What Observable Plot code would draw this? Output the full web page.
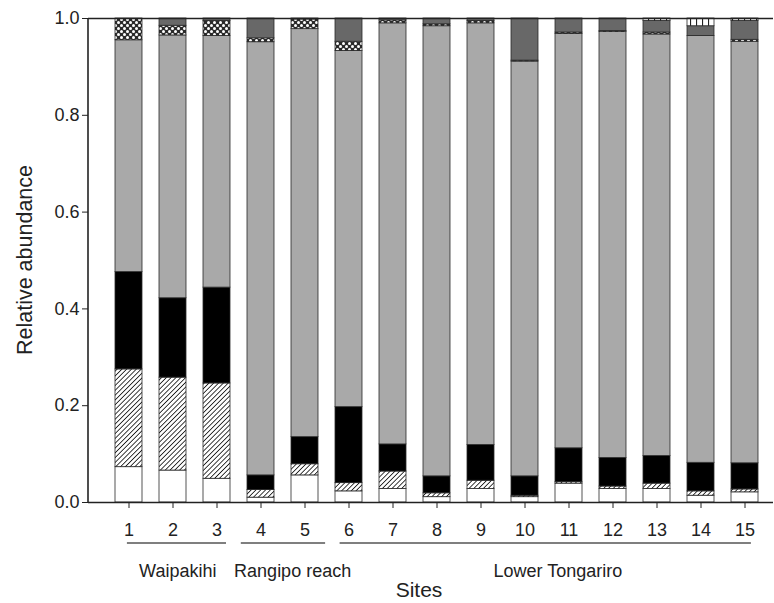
<!DOCTYPE html>
<html>
<head>
<meta charset="utf-8">
<script src="https://cdn.jsdelivr.net/npm/d3@7"></script>
<script src="https://cdn.jsdelivr.net/npm/@observablehq/plot@0.6"></script>
<style>
  html, body { margin: 0; padding: 0; background: #fff; }
</style>
</head>
<body>
<div id="chart"></div>
<script>
// ---- data (relative abundance per site, stacked bottom -> top) ----
const sites = ["1","2","3","4","5","6","7","8","9","10","11","12","13","14","15"];
const categories = ["open", "hatched", "black", "grey", "dotted", "darkgrey", "striped"];

const open     = [0.073, 0.066, 0.049, 0.010, 0.056, 0.023, 0.028, 0.011, 0.028, 0.011, 0.039, 0.028, 0.028, 0.014, 0.021];
const hatched  = [0.202, 0.192, 0.197, 0.016, 0.023, 0.017, 0.036, 0.008, 0.017, 0.003, 0.003, 0.005, 0.011, 0.009, 0.006];
const black    = [0.201, 0.164, 0.198, 0.030, 0.056, 0.157, 0.056, 0.035, 0.074, 0.040, 0.070, 0.059, 0.057, 0.059, 0.054];
const grey     = [0.479, 0.543, 0.520, 0.895, 0.843, 0.736, 0.870, 0.930, 0.871, 0.857, 0.856, 0.880, 0.871, 0.882, 0.871];
const dotted   = [0.045, 0.020, 0.031, 0.008, 0.020, 0.019, 0.006, 0.004, 0.005, 0.002, 0.003, 0.002, 0.004, 0.000, 0.004];
const darkgrey = [0.000, 0.015, 0.005, 0.041, 0.002, 0.048, 0.004, 0.012, 0.005, 0.087, 0.029, 0.026, 0.024, 0.020, 0.039];
const striped  = [0.000, 0.000, 0.000, 0.000, 0.000, 0.000, 0.000, 0.000, 0.000, 0.000, 0.000, 0.000, 0.005, 0.016, 0.005];

const yTicks = [0, 0.2, 0.4, 0.6, 0.8, 1.0];

const groups = [
  {label: "Waipakihi",       from: "1", to: "3"},
  {label: "Rangipo reach",   from: "4", to: "5"},
  {label: "Lower Tongariro", from: "6", to: "15"}
];

const series = {open, hatched, black, grey, dotted, darkgrey, striped};
const data = [];
categories.forEach(c => sites.forEach((s, i) => {
  if (series[c][i] > 0) data.push({site: s, category: c, value: series[c][i]});
}));

// ---- styling ----
const fills = ["#ffffff", "url(#hatch)", "#000000", "#a9a9a9", "url(#dots)", "#686868", "url(#vstripes)"];
const font = "'Liberation Sans', Arial, Helvetica, sans-serif";

const plot = Plot.plot({
  width: 774,
  height: 603,
  marginLeft: 88,
  marginRight: 1,
  marginTop: 18,
  marginBottom: 101,
  style: {fontFamily: font, fontSize: "18px", color: "#222", background: "#fff"},
  x: {type: "band", domain: sites, paddingInner: 0.39, paddingOuter: 0.4, align: 0.64,
      label: null, tickSize: 6, tickPadding: 15},
  y: {domain: [0, 1], ticks: yTicks, tickFormat: d3.format(".1f"), label: null,
      tickSize: 6, tickPadding: 3},
  color: {domain: categories, range: fills},
  marks: [
    Plot.rectY(data, Plot.stackY({order: categories}, {
      x: "site", y: "value", z: "category", fill: "category",
      stroke: "#2a2a2a", strokeWidth: 0.8
    })),
    Plot.ruleY([0, 1], {stroke: "#222", strokeWidth: 1.6})
  ]
});

const svg = d3.select(plot);
const xs = plot.scale("x");
const ys = plot.scale("y");
const bw = xs.bandwidth;
const cx = s => xs.apply(s) + bw / 2;

// patterns
const defs = svg.insert("defs", ":first-child");
const hatch = defs.append("pattern").attr("id", "hatch").attr("patternUnits", "userSpaceOnUse")
  .attr("width", 3.4).attr("height", 3.4).attr("patternTransform", "rotate(45)");
hatch.append("rect").attr("width", 3.4).attr("height", 3.4).attr("fill", "#fff");
hatch.append("line").attr("x1", 0).attr("y1", 0).attr("x2", 0).attr("y2", 3.4)
  .attr("stroke", "#1a1a1a").attr("stroke-width", 1.7);

const dots = defs.append("pattern").attr("id", "dots").attr("patternUnits", "userSpaceOnUse")
  .attr("width", 6).attr("height", 6);
dots.append("rect").attr("width", 6).attr("height", 6).attr("fill", "#2a2a2a");
dots.append("circle").attr("cx", 1.5).attr("cy", 1.5).attr("r", 1.5).attr("fill", "#fff");
dots.append("circle").attr("cx", 4.5).attr("cy", 4.5).attr("r", 1.5).attr("fill", "#fff");

const vs = defs.append("pattern").attr("id", "vstripes").attr("patternUnits", "userSpaceOnUse")
  .attr("width", 6).attr("height", 6);
vs.append("rect").attr("width", 6).attr("height", 6).attr("fill", "#fff");
vs.append("line").attr("x1", 0.5).attr("y1", 0).attr("x2", 0.5).attr("y2", 6)
  .attr("stroke", "#222").attr("stroke-width", 1.2);

// left axis line
svg.append("line")
  .attr("x1", 88).attr("x2", 88)
  .attr("y1", ys.apply(1)).attr("y2", ys.apply(0))
  .attr("stroke", "#222").attr("stroke-width", 1.6);

// group underlines and labels (hand-drawn extents in the original)
const ext = {
  "Waipakihi":       {lo: -1.6, hi: 9.5,  t: 1.3},
  "Rangipo reach":   {lo: -19.7, hi: 20.6, t: 9.7},
  "Lower Tongariro": {lo: -8.9, hi: 6.4,  t: 12.7}
};
groups.forEach(g => {
  const e = ext[g.label];
  const x1 = cx(g.from) + e.lo, x2 = cx(g.to) + e.hi;
  svg.append("line").attr("x1", x1).attr("x2", x2).attr("y1", 543).attr("y2", 543)
    .attr("stroke", "#555").attr("stroke-width", 1.6);
  svg.append("text").attr("x", (x1 + x2) / 2 + e.t).attr("y", 577)
    .attr("text-anchor", "middle").attr("fill", "#222")
    .style("font-family", font).style("font-size", "18px").text(g.label);
});

// axis titles
svg.append("text").attr("x", 419).attr("y", 597)
  .attr("text-anchor", "middle").attr("fill", "#222")
  .style("font-family", font).style("font-size", "21px").text("Sites");
svg.append("text")
  .attr("transform", `translate(32,${(ys.apply(0) + ys.apply(1)) / 2}) rotate(-90)`)
  .attr("text-anchor", "middle").attr("fill", "#222")
  .style("font-family", font).style("font-size", "21.5px").text("Relative abundance");

document.getElementById("chart").appendChild(plot);
</script>
</body>
</html>
